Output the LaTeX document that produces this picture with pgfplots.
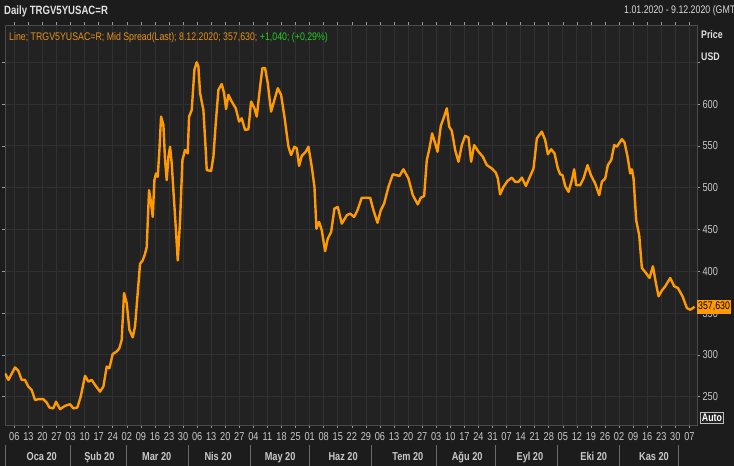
\documentclass[border=0pt]{standalone}
\usepackage{fontspec}
\usepackage{pgfplots}
\pgfplotsset{compat=1.18}
\setmainfont{Liberation Sans}
\newfontfamily\cond[FakeStretch=0.8]{Liberation Sans}
\definecolor{bgc}{HTML}{1C1C1C}
\definecolor{plotbg}{HTML}{222222}
\definecolor{gridc}{HTML}{313131}
\definecolor{linec}{HTML}{FF9B00}
\definecolor{txt}{HTML}{C8C8C8}
\definecolor{legor}{HTML}{E8921C}
\definecolor{leggr}{HTML}{22CC22}
\definecolor{framec}{HTML}{4A4A4A}
\definecolor{sepc}{HTML}{6A6A6A}
\pgfplotstableread{
t v
-3.3 278
-2.1 270
0.25 285
1.43 281
2.62 270
3.8 270
4.99 262
6.18 258
7.36 246
8.55 247
10.32 247
11.51 243
12.46 237
13.88 236
14.83 244
16.25 235
18.03 239
19.81 241
20.99 236
22.41 237
23.6 250
25.14 275
26.33 268
27.51 270
28.7 264
30.48 256
31.66 262
32.85 286
33.8 284
34.98 301
36.4 304
37.35 308
38.18 318
39.01 374
39.96 362
40.91 330
42.09 321
42.92 334
44.7 409
45.65 413
46.48 421
47.07 429
47.9 497
48.5 485
49.21 465
49.8 509
50.39 517
50.99 513
51.58 545
52.17 585
53.0 575
53.59 533
54.18 509
54.78 537
55.37 549
55.96 529
56.55 497
57.39 453
58.1 413
58.93 461
59.76 533
60.7 545
61.65 541
62.13 585
63.08 593
64.02 641
64.85 650
65.44 645
66.04 613
67.22 593
68.05 545
68.41 521
69.95 520
70.78 537
71.61 577
72.56 617
73.74 624
74.57 613
75.28 594
76.11 611
77.3 603
78.72 595
79.91 579
80.86 583
82.04 569
83.23 570
84.17 603
85.36 595
86.19 585
87.38 621
88.2 643
89.15 643
90.1 625
91.29 591
92.47 605
93.66 619
94.84 611
96.03 585
97.45 549
98.4 539
99.58 549
100.42 547
101.24 526
102.19 538
103.62 543
104.56 549
105.75 525
106.7 501
107.41 451
108.36 459
109.31 449
110.49 424
111.44 439
112.63 447
113.81 475
115.0 477
116.42 457
118.2 467
119.38 469
120.8 465
122.0 473
123.53 488
126.49 488
127.68 473
129.1 458
130.29 473
131.47 481
133.01 501
134.55 516
136.92 514
138.34 522
140.12 511
141.67 491
143.44 480
144.51 488
145.7 490
146.64 533
147.59 547
148.54 565
149.61 553
150.44 543
151.62 574
152.81 585
153.76 595
154.59 573
155.54 568
156.72 545
157.91 531
159.09 551
160.28 562
161.46 560
162.41 531
163.48 551
165.02 543
166.56 537
167.98 527
169.76 523
171.18 518
171.9 511
172.72 492
173.91 501
175.33 508
176.88 512
178.06 507
179.25 507
180.44 512
181.86 502
183.04 511
184.58 523
185.77 559
187.54 567
188.73 557
189.68 540
190.86 546
192.05 541
193.23 523
194.06 516
194.89 515
195.84 502
197.02 495
198.21 509
199.04 522
199.75 503
201.17 503
202.36 511
203.78 527
204.97 515
206.51 505
207.93 491
208.88 507
210.06 511
211.01 527
212.2 533
213.27 551
214.21 549
215.99 558
216.94 554
218.01 537
218.96 517
219.55 522
220.14 511
221.09 461
222.16 443
223.1 404
224.52 398
225.83 392
227.02 406
228.08 386
229.03 370
230.22 377
231.4 382
233.18 392
234.6 382
235.91 380
237.56 370
239.11 356
240.29 354
241.24 356
241.8 357.63
}\spread
\begin{document}
\begin{tikzpicture}[x=1pt,y=1pt]
\fill[bgc] (0,0) rectangle (734,466);
\begin{axis}[at={(5pt,41pt)}, anchor=south west, scale only axis,
 width=692pt, height=400pt,
 xmin=-3.31, xmax=242.7, ymin=216.1, ymax=694.6,
 axis background/.style={fill=plotbg},
 axis line style={framec, line width=0.8pt},
 xtick={0,5,...,240},
 xticklabels={06,13,20,27,03,10,17,24,02,09,16,23,30,06,13,20,27,04,11,18,25,01,08,15,22,29,06,13,20,27,03,10,17,24,31,07,14,21,28,05,12,19,26,02,09,16,23,30,07},
 ytick={250,300,...,650},
 yticklabels={250,300,350,400,450,500,550,600,{}},
 yticklabel pos=right,
 tick align=outside, major tick length=3pt,
 tick style={color=gray!80, line width=0.6pt},
 grid=major, major grid style={gridc, line width=0.8pt},
 ticklabel style={font=\cond\fontsize{11.5}{12}\selectfont, text=txt},
 xticklabel style={yshift=-1pt},
 yticklabel style={xshift=-1pt},
 clip mode=individual,
]
\addplot[linec, line width=2.4pt, line join=round] table[x=t,y=v] {\spread};
\coordinate (lastv) at (axis cs:242.7,357.63);
\end{axis}
% month separators (trading-day index t -> picture x = 5 + (t+3.31)*2.8129)
\foreach \t in {-3,20,40,62,84,105,127,150,171,193,215,236}{
  \draw[sepc, line width=0.8pt] ({5+(\t+3.31)*2.8129},0) -- ++(0,21);
}
\foreach \t/\m in {9.74/Oca 20,30.23/Şub 20,50.64/Mar 20,72.44/Nis 20,94.49/May 20,116.9/Haz 20,139.9/Tem 20,161/Ağu 20,183.3/Eyl 20,206/Eki 20,227.4/Kas 20}{
  \node[anchor=base, inner sep=0, font=\cond\bfseries\fontsize{11.5}{12}\selectfont, text=txt] at ({5+(\t+3.31)*2.8129},5) {\m};
}
\node[anchor=west, font=\cond\bfseries\fontsize{12}{13}\selectfont, text=white!88!black, inner sep=0] at (4,455) {Daily TRGV5YUSAC=R};
\node[anchor=west, font=\cond\fontsize{11}{12}\selectfont, text=white!85!black, inner sep=0] at (624,455) {1.01.2020 - 9.12.2020 (GMT)};
\node[anchor=west, font=\cond\fontsize{11}{12}\selectfont, inner sep=0] at (9,428) {\textcolor{legor}{Line; TRGV5YUSAC=R; Mid Spread(Last); 8.12.2020; 357,630;} \textcolor{leggr}{+1,040; (+0,29\%)}};
\node[anchor=west, font=\cond\bfseries\fontsize{11}{12}\selectfont, text=white!88!black, inner sep=0] at (701,431) {Price};
\node[anchor=west, font=\cond\bfseries\fontsize{11}{12}\selectfont, text=white!88!black, inner sep=0] at (701,409) {USD};
\node[anchor=west, fill=linec, text=black, font=\cond\fontsize{11}{12}\selectfont, inner xsep=1pt, inner ysep=2.5pt] at (lastv) {357,630};
\node[anchor=south west, draw=white!75!black, line width=0.8pt, fill=plotbg, text=white, font=\cond\bfseries\fontsize{11}{12}\selectfont, inner xsep=1.5pt, inner ysep=2pt] at (700,42) {Auto};
\pgfresetboundingbox
\useasboundingbox (0,0) rectangle (734,466);
\end{tikzpicture}
\end{document}
